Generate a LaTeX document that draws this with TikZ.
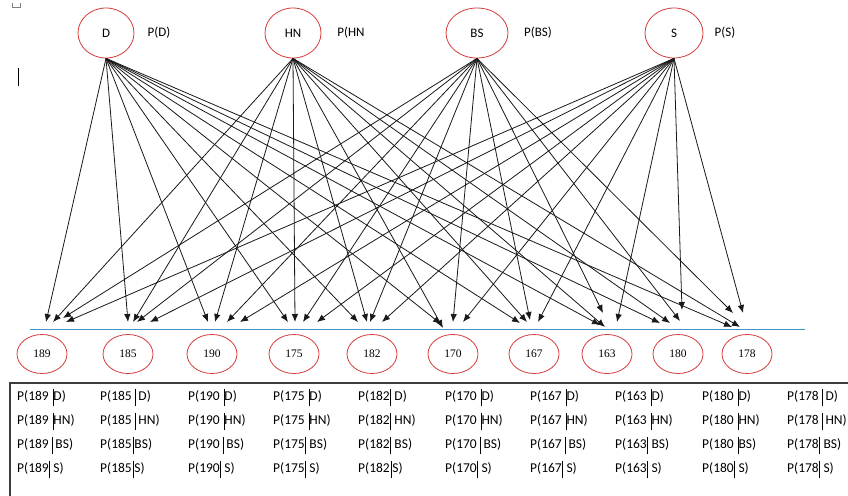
\documentclass[tikz,border=0pt]{standalone}
\usepackage{fontspec}
\setmainfont{Carlito}
\newfontfamily\numfont{Liberation Serif}
\usetikzlibrary{shapes.geometric,arrows.meta}
\definecolor{ered}{RGB}{215,60,60}
\definecolor{bline}{RGB}{60,150,200}
\definecolor{tgray}{RGB}{60,60,60}
\newcommand\cbar{\rule[-6pt]{0.7pt}{17pt}}
\newcommand\cbL{\hspace{4pt}\cbar}
\newcommand\cbR{\cbar\hspace{4pt}}
\newcommand\cbB{\hspace{3pt}\cbar\hspace{3pt}}
\newcommand\cbN{\hspace{1pt}\cbar\hspace{1pt}}
\begin{document}
\begin{tikzpicture}[x=1pt,y=-1pt]
\tikzset{
 topnode/.style={ellipse, draw=ered, line width=0.8pt, minimum width=56pt, minimum height=50pt, inner sep=0pt, font=\fontsize{13}{15}\selectfont},
 valnode/.style={ellipse, draw=ered, line width=0.8pt, minimum width=50pt, minimum height=39pt, inner sep=0pt, font=\numfont\fontsize{11.5}{13}\selectfont},
 plabel/.style={font=\fontsize{13}{15}\selectfont, inner sep=0pt},
 link/.style={draw=black!90, line width=0.8pt, -{Latex[length=8pt,width=6.5pt]}},
 cell/.style={anchor=base west, inner sep=0pt, font=\fontsize{13.5}{15}\selectfont},
}
\fill[white] (0,0) rectangle (848,495);
\useasboundingbox (0,0) rectangle (848,495);

% small marks at top left
\draw[gray, line width=0.5pt] (12,3) -- (12,7) -- (20,7) -- (20,3);
\draw[black, line width=0.8pt] (18,68) -- (18,86);

% top nodes
\node[topnode] (D) at (106,33) {D};
\node[topnode] (HN) at (293,33) {HN};
\node[topnode, minimum width=62pt] (BS) at (477,33) {BS};
\node[topnode, minimum width=58pt] (S) at (674,33) {S};
\node[plabel] (pD) at (159,33) {P(D)};
\node[plabel] (pHN) at (351,33) {P(HN};
\node[plabel] (pBS) at (538,33) {P(BS)};
\node[plabel] (pS) at (725,33) {P(S)};

% bottom nodes
\foreach \n/\x in {189/42,185/128,190/212,175/294,182/372,170/453,167/534,163/607,180/678,178/747}
  \node[valnode] (v\n) at (\x,354) {\n};

% separator line
\draw[bline, line width=0.9pt] (30,329) -- (805,329);

% arrows
\foreach \n/\xa/\ya/\xb/\yb/\xc/\yc/\xd/\yd in {
189/46/322/53/322/63/318/66/322,
185/128/322/133/322/137/322/150/322,
190/208/322/215/322/227/322/240/322,
175/288/322/295/322/303/322/317/322,
182/358/322/367/322/370/322/382/322,
170/441/324/443/328/453/322/463/322,
167/520/323/527/322/530/320/538/322,
163/600/325/605/327/603/313/617/322,
180/660/323/670/323/680/321/682/310,
178/732/327/740/327/733/313/743/313}
{
  \coordinate (e\n D) at (\xa,\ya);
  \coordinate (e\n HN) at (\xb,\yb);
  \coordinate (e\n BS) at (\xc,\yc);
  \coordinate (e\n S) at (\xd,\yd);
  \draw[link] (D.south) -- (e\n D);
  \draw[link] (HN.south) -- (e\n HN);
  \draw[link] (BS.south) -- (e\n BS);
  \draw[link] (S.south) -- (e\n S);
}

% table frame
\draw[tgray, line width=1.2pt] (10,497) -- (10,383) -- (850,383);

% table cells
\foreach \col/\x/\ra/\rb/\rc/\rd in {
189/17/{\cbL D}/{\cbL HN}/{\cbB BS}/{\cbR S},
185/100/{\cbB D}/{\cbB HN}/{\cbN BS}/{\cbN S},
190/188/{\cbL D}/{\cbL HN}/{\cbB BS}/{\cbR S},
175/273/{\cbL D}/{\cbL HN}/{\cbR BS}/{\cbR S},
182/358/{\cbR D}/{\cbR HN}/{\cbR BS}/{\cbN S},
170/445/{\cbL D}/{\cbL HN}/{\cbB BS}/{\cbR S},
167/530/{\cbL D}/{\cbL HN}/{\cbB BS}/{\cbR S},
163/615/{\cbL D}/{\cbL HN}/{\cbR BS}/{\cbR S},
180/702/{\cbL D}/{\cbL HN}/{\cbL BS}/{\cbR S},
178/787/{\cbB D}/{\cbB HN}/{\cbR BS}/{\cbR S}}
{
  \node[cell] (c\col D) at (\x,400) {P(\col\ra)};
  \node[cell] (c\col HN) at (\x,424) {P(\col\rb)};
  \node[cell] (c\col BS) at (\x,448) {P(\col\rc)};
  \node[cell] (c\col S) at (\x,472) {P(\col\rd)};
}
\end{tikzpicture}
\end{document}
